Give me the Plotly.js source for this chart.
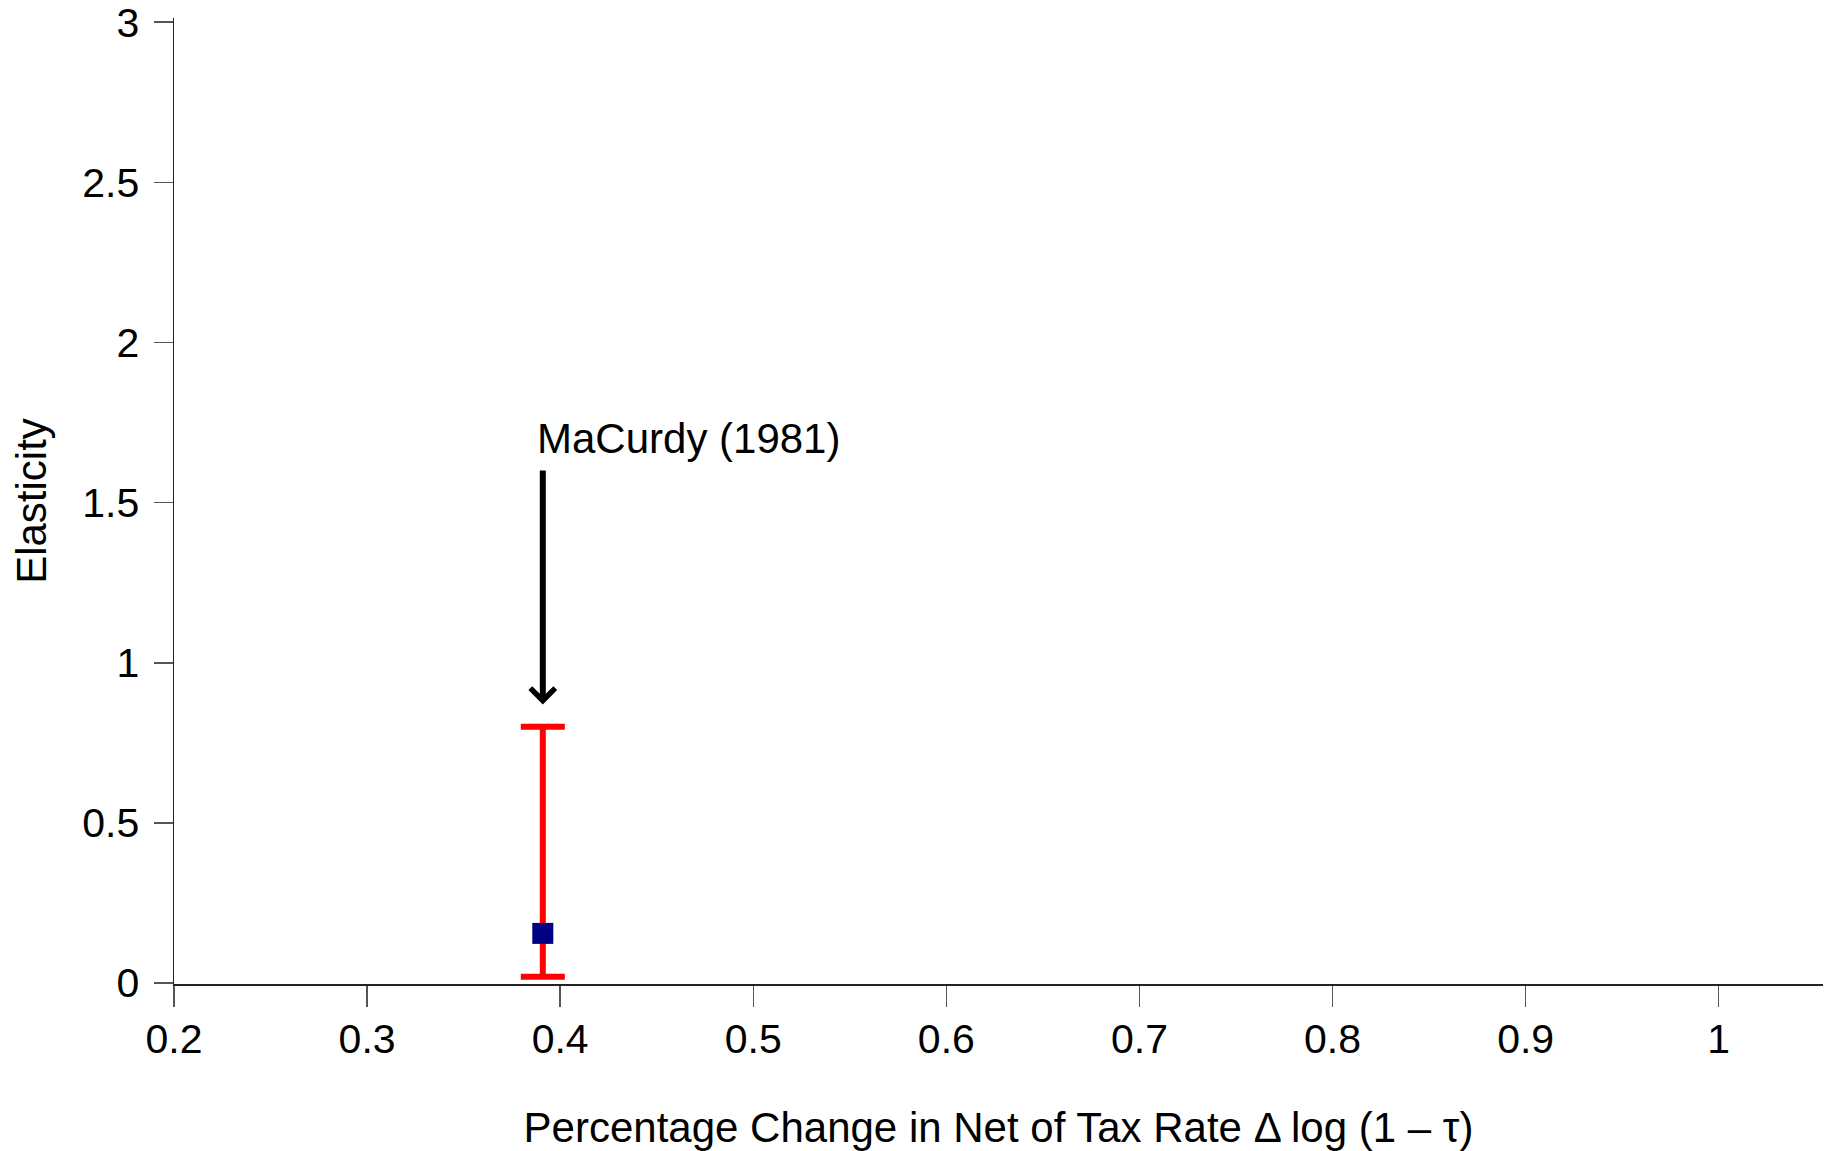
<!DOCTYPE html>
<html>
<head>
<meta charset="utf-8">
<script src="https://cdn.plot.ly/plotly-3.0.1.min.js"></script>
<style>
  html, body { margin: 0; padding: 0; background: #ffffff; }
  #chart { width: 1836px; height: 1151px; }
</style>
</head>
<body>
<div id="chart"></div>
<script>
// Study estimate: tax-rate change, elasticity point estimate and its interval
const studies = ["MaCurdy (1981)"];
const taxChange = [0.391];
const elasticity = [0.155];
const ciLow = [0.02];
const ciHigh = [0.8];

// Arrow pointing at the estimate, in data units
const arrowTail = [1.605];
const arrowTip = [0.87];
const labelX = [0.387];
const labelY = [1.70];

const xTicks = [0.2, 0.3, 0.4, 0.5, 0.6, 0.7, 0.8, 0.9, 1];
const xTickText = ["0.2", "0.3", "0.4", "0.5", "0.6", "0.7", "0.8", "0.9", "1"];
const yTicks = [0, 0.5, 1, 1.5, 2, 2.5, 3];
const yTickText = ["0", "0.5", "1", "1.5", "2", "2.5", "3"];

const FONT = "'Liberation Sans', Arial, Helvetica, sans-serif";

const errPlus = ciHigh.map((h, i) => h - elasticity[i]);
const errMinus = ciLow.map((l, i) => elasticity[i] - l);

const trace = {
  type: "scatter",
  mode: "markers",
  x: taxChange,
  y: elasticity,
  marker: { symbol: "square", size: 21, color: "#000080", line: { width: 0 } },
  error_y: {
    type: "data",
    symmetric: false,
    array: errPlus,
    arrayminus: errMinus,
    color: "#ff0000",
    thickness: 6,
    width: 22
  },
  hoverinfo: "skip",
  showlegend: false
};

const annotations = [];
studies.forEach((name, i) => {
  annotations.push({
    x: labelX[i], y: labelY[i], xref: "x", yref: "y",
    text: name, showarrow: false,
    xanchor: "left", yanchor: "middle",
    font: { family: FONT, size: 42, color: "#000000" }
  });
  annotations.push({
    x: taxChange[i], y: arrowTip[i], xref: "x", yref: "y",
    ax: taxChange[i], ay: arrowTail[i], axref: "x", ayref: "y",
    text: "", showarrow: true,
    arrowhead: 4, arrowsize: 0.8, arrowwidth: 6, arrowcolor: "#000000",
    standoff: 0, startstandoff: 0
  });
});

const layout = {
  width: 1836,
  height: 1151,
  paper_bgcolor: "#ffffff",
  plot_bgcolor: "#ffffff",
  margin: { l: 174, r: 13, t: 18, b: 167, pad: 0 },
  font: { family: FONT, color: "#000000" },
  xaxis: {
    range: [0.2, 1.054],
    tickmode: "array",
    tickvals: xTicks,
    ticktext: xTickText,
    ticks: "outside",
    ticklen: 21,
    tickwidth: 1.5,
    tickcolor: "#555555",
    tickfont: { family: FONT, size: 41, color: "#000000" },
    ticklabelstandoff: -3,
    ticklabeloverflow: "allow",
    showline: true,
    linecolor: "#222222",
    linewidth: 1.5,
    showgrid: false,
    zeroline: false,
    title: {
      text: "Percentage Change in Net of Tax Rate \u0394 log (1 \u2013 \u03c4)",
      font: { family: FONT, size: 42, color: "#000000" },
      standoff: 53
    }
  },
  yaxis: {
    range: [-0.003, 3.013],
    tickmode: "array",
    tickvals: yTicks,
    ticktext: yTickText,
    ticks: "outside",
    ticklen: 19,
    tickwidth: 1.5,
    tickcolor: "#555555",
    tickfont: { family: FONT, size: 41, color: "#000000" },
    ticklabelstandoff: 6,
    ticklabeloverflow: "allow",
    showline: true,
    linecolor: "#222222",
    linewidth: 1.5,
    showgrid: false,
    zeroline: false,
    title: {
      text: "Elasticity",
      font: { family: FONT, size: 42, color: "#000000" },
      standoff: 22
    }
  },
  annotations: annotations,
  showlegend: false
};

Plotly.newPlot("chart", [trace], layout, { displayModeBar: false, staticPlot: true });
</script>
</body>
</html>
